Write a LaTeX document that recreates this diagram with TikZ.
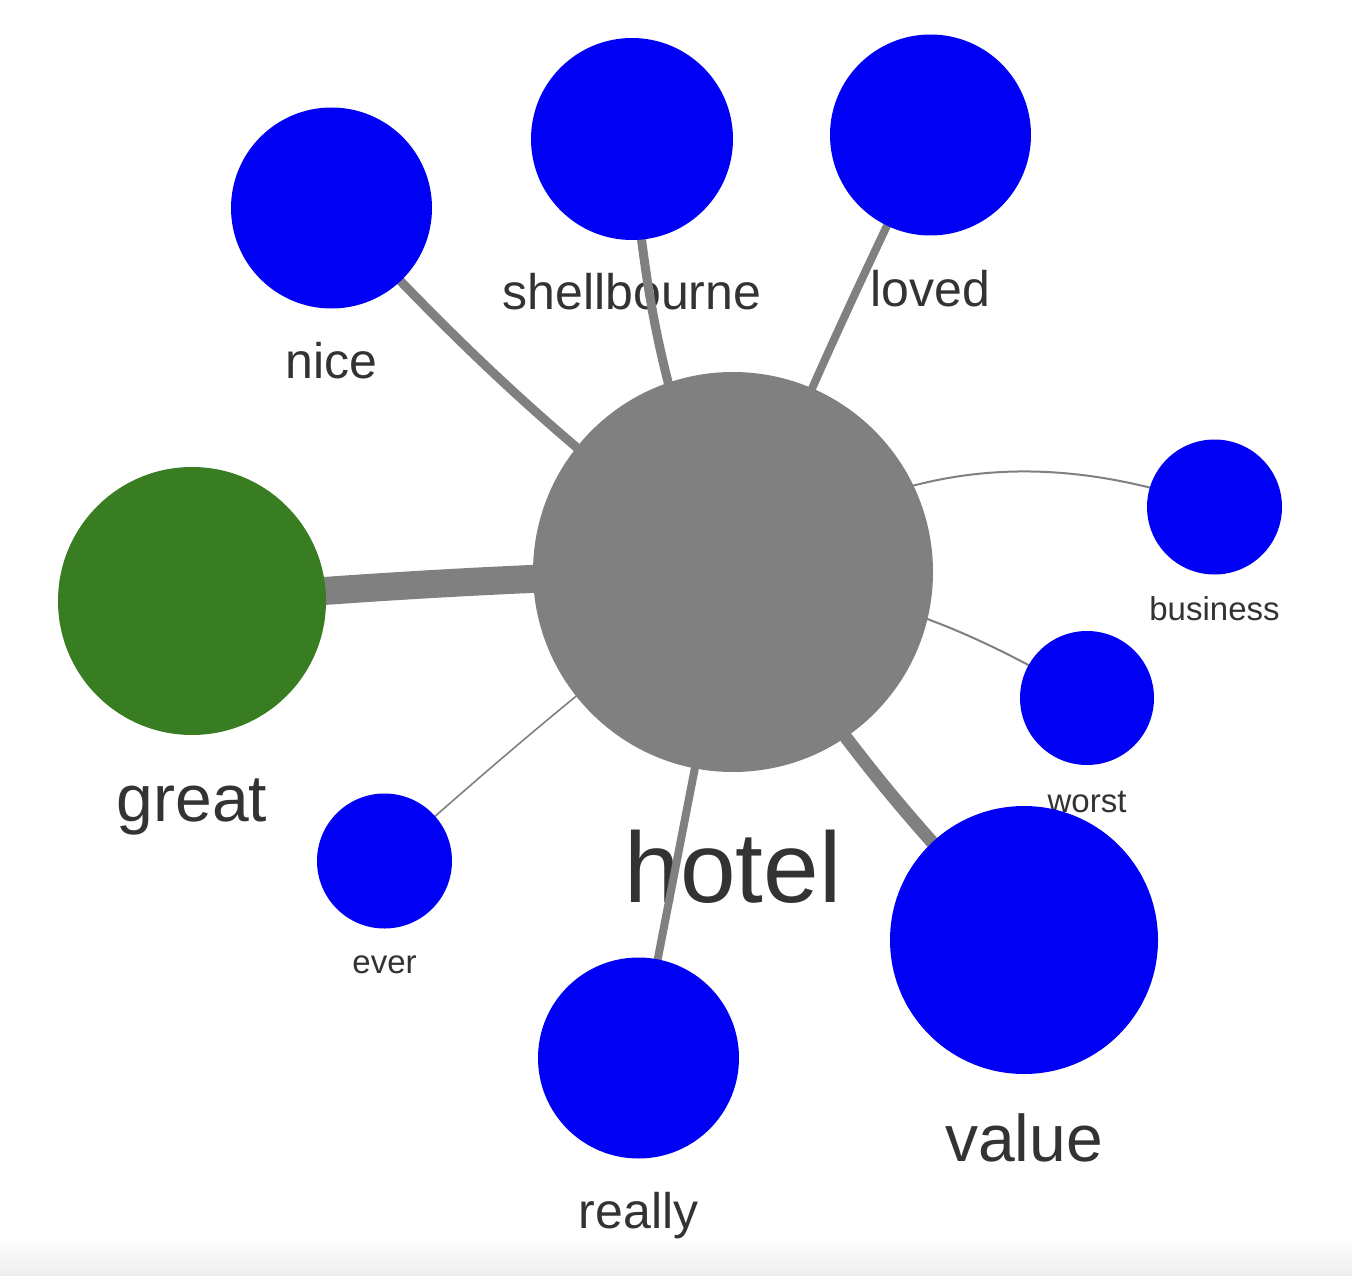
\documentclass[tikz,border=0pt]{standalone}
\usepackage{fontspec}
\setmainfont{Liberation Sans}
\pgfdeclarelayer{labels}
\pgfdeclarelayer{edges}
\pgfsetlayers{labels,edges,main}
\definecolor{termblue}{RGB}{0,0,245}
\definecolor{termgreen}{RGB}{56,125,33}
\definecolor{hubgray}{RGB}{128,128,128}
\definecolor{txt}{RGB}{51,51,51}
\definecolor{fade}{RGB}{238,238,238}
\tikzset{
  term/.style={circle, draw=none, fill=termblue, inner sep=0pt, minimum size=#1},
  hub/.style={circle, draw=none, fill=hubgray, inner sep=0pt, minimum size=#1},
  lbl/.style={text=txt, anchor=base, inner sep=0pt, font=\fontsize{#1}{#1}\selectfont},
  link/.style={draw=hubgray, line width=#1}
}
\begin{document}
\begin{tikzpicture}[x=1pt,y=1pt]
\useasboundingbox (0,0) rectangle (1352,-1276);

% nodes
\node[hub=400] (hotel) at (733,-572) {};
\node[term=268, fill=termgreen] (great) at (192,-601) {};
\node[term=201] (nice) at (331.5,-208) {};
\node[term=202] (shellbourne) at (632,-139) {};
\node[term=201] (loved) at (930.5,-135) {};
\node[term=135] (business) at (1214.5,-507) {};
\node[term=134] (worst) at (1087,-698) {};
\node[term=268] (value) at (1024,-940) {};
\node[term=201] (really) at (638.5,-1058) {};
\node[term=135] (ever) at (384.5,-861) {};

% background and labels (below edges and circles)
\begin{pgfonlayer}{labels}
\fill[white] (0,0) rectangle (1352,-1276);
\shade[top color=white, bottom color=fade, draw=none] (0,-1236) rectangle (1352,-1276);
\node[lbl=100] (l-hotel) at (733,-902) {hotel};
\node[lbl=66] (l-great) at (192,-821) {great};
\node[lbl=66] (l-value) at (1024,-1161) {value};
\node[lbl=50] (l-nice) at (331.5,-378) {nice};
\node[lbl=50] (l-shellbourne) at (632,-309) {shellbourne};
\node[lbl=50] (l-loved) at (930.5,-306) {loved};
\node[lbl=50] (l-really) at (638.5,-1228) {really};
\node[lbl=33] (l-business) at (1214.5,-620) {business};
\node[lbl=33] (l-worst) at (1087,-812) {worst};
\node[lbl=33] (l-ever) at (384.5,-973) {ever};
\end{pgfonlayer}

% edges
\begin{pgfonlayer}{edges}
\draw[link=28] (hotel.center) to[bend right=1.5] (great.center);
\draw[link=9] (hotel.center) to[bend left=5] (nice.center);
\draw[link=9] (hotel.center) to[bend left=9] (shellbourne.center);
\draw[link=8] (hotel.center) to[bend left=1.5] (loved.center);
\draw[link=2] (hotel.center) to[bend left=27] (business.center);
\draw[link=2] (hotel.center) to[bend left=11] (worst.center);
\draw[link=13] (hotel.center) to[bend right=6] (value.center);
\draw[link=8] (hotel.center) -- (really.center);
\draw[link=1.6] (hotel.center) to[bend right=2] (ever.center);
\end{pgfonlayer}
\end{tikzpicture}
\end{document}
